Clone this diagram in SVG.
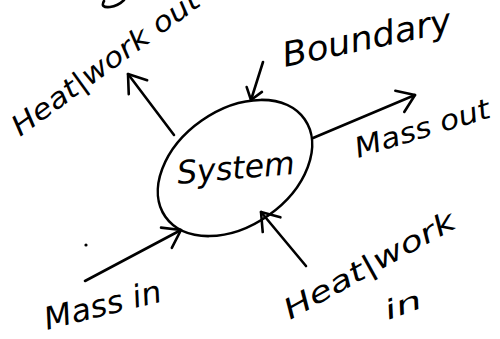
<svg xmlns="http://www.w3.org/2000/svg" width="500" height="339" viewBox="0 0 500 339">
  <style>
    .ink { fill: none; stroke: #000; stroke-width: 2.6; stroke-linecap: round; stroke-linejoin: round; }
    .hand { font-family: "DejaVu Sans", "Liberation Sans", sans-serif; font-style: oblique; fill: #000; }
  </style>
  <defs>
    <marker id="arrow" markerUnits="userSpaceOnUse" markerWidth="30" markerHeight="30" viewBox="-20 -15 24 30" refX="0" refY="0" orient="auto">
      <path d="M -16.5 -11.5 L 0 0 L -16.5 11.5" fill="none" stroke="#000" stroke-width="2.6" stroke-linecap="round" stroke-linejoin="round"/>
    </marker>
    <marker id="arrow-sm" markerUnits="userSpaceOnUse" markerWidth="20" markerHeight="20" viewBox="-14 -10 16 20" refX="0" refY="0" orient="auto">
      <path d="M -11 -8 L 0 0 L -11 8" fill="none" stroke="#000" stroke-width="2.6" stroke-linecap="round" stroke-linejoin="round"/>
    </marker>
  </defs>
  <rect width="500" height="339" fill="#fff"/>

  <!-- cut-off stroke at top edge -->
  <path class="ink" d="M104,1 Q100,8 110,7 Q118,6 124,0"/>
  <!-- stray dot -->
  <circle cx="86" cy="245" r="1.6" fill="#000"/>

  <g id="connectors">
    <path id="heat-work-out" class="ink" d="M174,135 L128,74" marker-end="url(#arrow)"/>
    <path id="boundary-pointer" class="ink" d="M263,62 L251,100" marker-end="url(#arrow-sm)"/>
    <path id="mass-out" class="ink" d="M313,138 L415,95" marker-end="url(#arrow)"/>
    <path id="mass-in" class="ink" d="M85,281 L181,230" marker-end="url(#arrow)"/>
    <path id="heat-work-in" class="ink" d="M306,266 L261,212" marker-end="url(#arrow)"/>
  </g>

  <g id="node-system">
    <ellipse class="ink" cx="235" cy="168" rx="85" ry="58" transform="rotate(-35 235 168)"/>
    <text class="hand" x="178" y="184" font-size="32" textLength="118" lengthAdjust="spacingAndGlyphs" transform="rotate(-5 178 184)">System</text>
  </g>

  <g id="label-heat-work-out">
    <text class="hand" x="20" y="137" font-size="28" textLength="225" lengthAdjust="spacingAndGlyphs" transform="rotate(-36 20 137)">Heat|work out</text>
  </g>

  <g id="label-boundary">
    <text class="hand" x="285" y="67" font-size="34" textLength="172" lengthAdjust="spacingAndGlyphs" transform="rotate(-12 285 67)">Boundary</text>
  </g>

  <g id="label-mass-out">
    <text class="hand" x="358" y="158" font-size="28" textLength="140" lengthAdjust="spacingAndGlyphs" transform="rotate(-17 358 158)">Mass out</text>
  </g>

  <g id="label-mass-in">
    <text class="hand" x="47" y="330" font-size="31" textLength="120" lengthAdjust="spacingAndGlyphs" transform="rotate(-14 47 330)">Mass in</text>
  </g>

  <g id="label-heat-work-in">
    <text class="hand" x="290" y="320" font-size="28" textLength="192" lengthAdjust="spacingAndGlyphs" transform="rotate(-29 290 320)">Heat|work</text>
    <text class="hand" x="388" y="320" font-size="26" textLength="38" lengthAdjust="spacingAndGlyphs" transform="rotate(-20 388 320)">in</text>
  </g>
</svg>
